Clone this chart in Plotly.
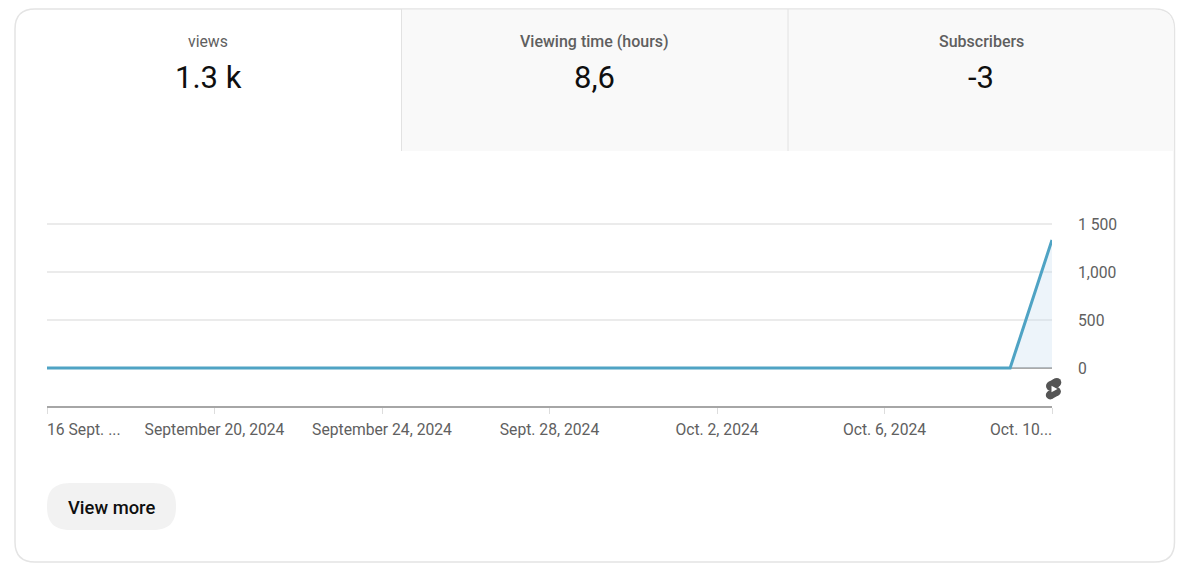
import pandas as pd
import plotly.graph_objects as go

# ---------- data ----------
dates = pd.date_range("2024-09-16", "2024-10-10", freq="D").strftime("%Y-%m-%d").tolist()
views = [0, 0, 0, 0, 0, 0, 0, 0, 0, 0, 0, 0, 0, 0, 0, 0, 0, 0, 0, 0, 0, 0, 0, 0, 1333]
x_tick_dates = ["2024-09-20", "2024-09-24", "2024-09-28", "2024-10-02", "2024-10-06"]
x_tick_labels = ["September 20, 2024", "September 24, 2024", "Sept. 28, 2024", "Oct. 2, 2024", "Oct. 6, 2024"]
x_minor_ticks = ["2024-09-16", "2024-09-20", "2024-09-24", "2024-09-28", "2024-10-02", "2024-10-06", "2024-10-10"]
first_label = "16 Sept. ..."
last_label = "Oct. 10..."
y_tick_values = [0, 500, 1000, 1500]
y_tick_labels = ["0", "500", "1,000", "1 500"]
tab_titles = ["views", "Viewing time (hours)", "Subscribers"]
tab_values = ["1.3 k", "8,6", "-3"]
button_text = "View more"

# ---------- layout geometry (pixels in the 1200x563 page) ----------
W, H = 1200, 563
L, R, T, B = 47, 1052, 190, 406
Y_ZERO, Y_1500 = 368, 224
per_px = 1500 / (Y_ZERO - Y_1500)
y_range = [-(B - Y_ZERO) * per_px, (Y_ZERO - T) * per_px]

def px(x):
    return (x - L) / (R - L)

def py(y):
    return (B - y) / (B - T)

def path(cmds):
    out = []
    for c in cmds:
        if isinstance(c, str):
            out.append(c)
        else:
            out.append(f"{px(c[0]):.5f},{py(c[1]):.5f}")
    return " ".join(out)

GREY = "#606060"
BORDER = "#e4e4e4"
TAB = "#f9f9f9"
FONT = "Roboto"
shapes = []

# card
cl, cr, ct, cb, r = 15, 1174.5, 9, 562, 20
shapes.append(dict(type="path", xref="paper", yref="paper", layer="below",
    path=path(["M", (cl + r, ct), "L", (cr - r, ct), "Q", (cr, ct), (cr, ct + r),
               "L", (cr, cb - r), "Q", (cr, cb), (cr - r, cb),
               "L", (cl + r, cb), "Q", (cl, cb), (cl, cb - r),
               "L", (cl, ct + r), "Q", (cl, ct), (cl + r, ct), "Z"]),
    fillcolor="white", line=dict(color=BORDER, width=1.5)))
# inactive tabs
tab_bottom = 151
shapes.append(dict(type="path", xref="paper", yref="paper", layer="below",
    path=path(["M", (401.5, ct + 0.7), "L", (cr - r, ct + 0.7), "Q", (cr - 0.7, ct + 0.7), (cr - 0.7, ct + r),
               "L", (cr - 0.7, tab_bottom), "L", (401.5, tab_bottom), "Z"]),
    fillcolor=TAB, line=dict(width=0)))
for xd in (401.5, 788):
    shapes.append(dict(type="line", xref="paper", yref="paper", layer="below",
                       x0=px(xd), x1=px(xd), y0=py(ct), y1=py(tab_bottom),
                       line=dict(color="#e2e2e2", width=1)))
# button pill
bl, br, bt, bb = 47, 176, 483, 530
br_r = (bb - bt) / 2
shapes.append(dict(type="path", xref="paper", yref="paper", layer="below",
    path=path(["M", (bl + br_r, bt), "L", (br - br_r, bt),
               "C", (br - 4, bt), (br, bt + 11), (br, bt + br_r),
               "C", (br, bb - 11), (br - 4, bb), (br - br_r, bb),
               "L", (bl + br_r, bb),
               "C", (bl + 4, bb), (bl, bb - 11), (bl, bt + br_r),
               "C", (bl, bt + 11), (bl + 4, bt), (bl + br_r, bt), "Z"]),
    fillcolor="#f2f2f2", line=dict(width=0)))

# shorts icon: two overlapping slanted capsules and a play triangle
ICON = "#555555"
def capsule(x0, y0, x1, y1, rad):
    shapes.append(dict(type="line", xref="paper", yref="paper",
                       x0=px(x0), y0=py(y0), x1=px(x1), y1=py(y1),
                       line=dict(color=ICON, width=2 * rad)))
    for (cx, cy) in ((x0, y0), (x1, y1)):
        shapes.append(dict(type="circle", xref="paper", yref="paper",
                           x0=px(cx - rad), x1=px(cx + rad), y0=py(cy + rad), y1=py(cy - rad),
                           fillcolor=ICON, line=dict(width=0)))
capsule(1050.5, 386, 1056.8, 382.5, 4.5)
capsule(1050.2, 395, 1056.5, 391.5, 4.4)
shapes.append(dict(type="path", xref="paper", yref="paper",
    path=path(["M", (1051.5, 385.8), "L", (1057.5, 389), "L", (1051.5, 392.2), "Z"]),
    fillcolor="white", line=dict(width=0)))

annotations = []
def text(x, y, s, size, color=GREY, anchor="center", weight=400):
    annotations.append(dict(xref="paper", yref="paper", x=px(x), y=py(y), text=s, showarrow=False,
                            xanchor=anchor, yanchor="middle", align="center", xshift=0,
                            font=dict(family=FONT, size=size, color=color, weight=weight),
                            borderpad=0, borderwidth=0))

for cx, title, value, size, wt in zip((208, 594.5, 981), tab_titles, tab_values, (15.8, 16, 16), (400, 500, 500)):
    text(cx, 41.5, title, size, "#5f5f5f", weight=wt)
    text(cx, 77, value, 31, "#0f0f0f")
text(47, 429, first_label, 15.7, anchor="left")
text(1052, 429, last_label, 15.7, anchor="right")
text(111.5, 507, button_text, 18.4, "#0f0f0f", weight=500)

fig = go.Figure()
fig.add_trace(go.Scatter(
    x=dates, y=views, mode="lines",
    line=dict(color="#4fa3c4", width=3),
    fill="tozeroy", fillcolor="rgba(200,222,238,0.32)",
    hoverinfo="skip", showlegend=False,
))
fig.update_layout(
    width=W, height=H, autosize=False,
    margin=dict(l=L, r=W - R, t=T, b=H - B, pad=0),
    paper_bgcolor="white", plot_bgcolor="rgba(0,0,0,0)",
    font=dict(family=FONT, size=16, color=GREY),
    shapes=shapes, annotations=annotations, showlegend=False,
    xaxis=dict(
        type="date", range=[dates[0], dates[-1]],
        tickmode="array", tickvals=x_tick_dates, ticktext=x_tick_labels,
        ticks="", showgrid=False, showline=True, linecolor="#a6a6a6", linewidth=2,
        tickfont=dict(family=FONT, size=15.7, color=GREY),
        ticklabelstandoff=8,
        minor=dict(tickmode="array", tickvals=x_minor_ticks, ticks="outside",
                   ticklen=6, tickcolor="#dddddd", tickwidth=1, showgrid=False),
        zeroline=False,
    ),
    yaxis=dict(
        side="right", range=y_range,
        tickmode="array", tickvals=y_tick_values, ticktext=y_tick_labels,
        ticks="", showgrid=True, gridcolor="#ebebeb", gridwidth=2,
        zeroline=True, zerolinecolor="#aaaaaa", zerolinewidth=2,
        showline=False, ticklabelstandoff=25,
        tickfont=dict(family=FONT, size=15.7, color=GREY),
    ),
)
fig.write_html("out.html", config=dict(displayModeBar=False),
               post_script="document.body.style.margin='0';document.body.style.overflow='hidden';")
